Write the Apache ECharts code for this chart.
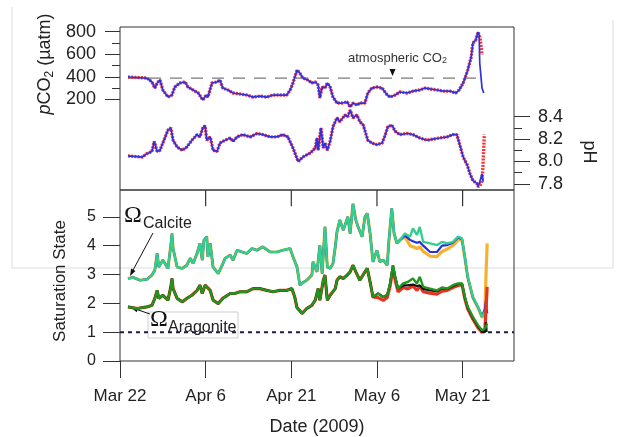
<!DOCTYPE html>
<html>
<head>
<meta charset="utf-8">
<script src="https://cdn.jsdelivr.net/npm/echarts@6/dist/echarts.min.js"></script>
<style>
  html, body { margin: 0; padding: 0; background: #fff; }
  #chart { width: 617px; height: 437px; }
</style>
</head>
<body>
<div id="chart"></div>
<script>
// x values are days after Mar 22, 2009
const dateTicks = [0, 15, 30, 45, 60]
const dateLabels = ['Mar 22', 'Apr 6', 'Apr 21', 'May 6', 'May 21']
const pco2Ticks = [200, 400, 600, 800]
const pco2MinorTicks = [300, 500, 700]
const phTicks = [7.8, 8.0, 8.2, 8.4]
const phMinorTicks = [7.9, 8.1, 8.3]
const satTicks = [0, 1, 2, 3, 4, 5]

const atmosphericCO2 = [[1.4, 388], [63.5, 388]]
const omegaOne = [[0, 1], [69, 1]]

const pco2Blue = [
  [1.4, 398], [4.7, 389], [5.6, 354], [6.1, 300], [6.5, 345], [7.0, 371], [7.5, 283], [8.4, 220],
  [9.1, 238], [9.6, 309], [10.5, 345], [11.4, 354], [11.9, 309], [12.8, 283], [13.7, 256], [14.5, 194],
  [15.1, 238], [15.4, 220], [16.1, 345], [17.0, 354], [17.5, 371], [18.0, 300], [18.9, 283], [19.8, 256],
  [21.0, 247], [22.2, 238], [23.3, 220], [24.5, 229], [25.7, 220], [26.8, 238], [28.0, 238], [29.2, 238],
  [29.8, 283], [30.3, 345], [31.0, 460], [31.5, 433], [32.0, 390], [32.9, 371], [33.6, 345], [34.2, 354],
  [34.7, 327], [35.0, 212], [35.4, 309], [35.9, 300], [36.3, 345], [36.8, 309], [37.3, 220], [38.0, 167],
  [38.9, 167], [39.8, 176], [40.3, 132], [40.8, 167], [41.5, 149], [42.0, 167], [42.9, 167], [43.4, 256],
  [44.1, 300], [45.0, 309], [45.9, 300], [46.4, 265], [46.8, 238], [47.3, 220], [48.2, 238], [49.0, 265],
  [50.3, 256], [51.3, 273], [52.5, 283], [53.4, 300], [54.3, 292], [55.5, 283], [56.6, 273], [57.8, 273],
  [58.8, 256], [59.4, 283], [60.1, 345], [60.6, 416], [60.9, 460], [61.5, 575], [61.8, 700], [62.3, 726],
  [62.7, 797], [62.9, 770], [63.0, 522], [63.4, 300], [63.7, 256]
]
const pco2RedTail = [[62.7, 797], [63.0, 785], [63.1, 740], [63.2, 690], [63.3, 640], [63.4, 595]]

const phBlue = [
  [1.4, 8.05], [3.9, 8.04], [4.7, 8.07], [5.6, 8.09], [6.0, 8.18], [6.5, 8.09], [7.0, 8.10], [7.5, 8.165],
  [8.4, 8.28], [8.9, 8.30], [9.3, 8.19], [10.0, 8.13], [10.9, 8.10], [11.7, 8.13], [12.6, 8.19], [13.5, 8.24],
  [14.0, 8.22], [14.5, 8.30], [14.9, 8.32], [15.2, 8.19], [15.8, 8.22], [16.3, 8.10], [17.0, 8.09], [17.5, 8.165],
  [18.4, 8.19], [19.3, 8.21], [19.8, 8.18], [20.5, 8.22], [21.5, 8.24], [22.8, 8.22], [24.0, 8.25], [25.0, 8.24],
  [26.3, 8.22], [27.5, 8.22], [28.5, 8.24], [29.4, 8.22], [30.3, 8.12], [31.2, 8.00], [32.0, 8.04], [33.3, 8.075],
  [34.2, 8.12], [34.5, 8.21], [34.7, 8.10], [35.2, 8.30], [35.6, 8.12], [35.9, 8.165], [36.3, 8.10], [36.8, 8.18],
  [37.3, 8.31], [38.0, 8.39], [38.5, 8.355], [39.4, 8.415], [39.9, 8.40], [40.3, 8.46], [40.8, 8.39], [41.5, 8.415],
  [42.0, 8.355], [42.6, 8.325], [43.4, 8.19], [44.1, 8.165], [45.0, 8.15], [45.9, 8.165], [46.4, 8.23], [46.9, 8.31],
  [47.6, 8.325], [48.2, 8.27], [49.0, 8.24], [50.3, 8.25], [51.3, 8.24], [52.5, 8.21], [53.8, 8.19], [54.8, 8.20],
  [56.0, 8.21], [57.3, 8.22], [58.3, 8.24], [59.0, 8.24], [59.5, 8.15], [60.1, 8.04], [60.8, 7.97], [61.3, 7.89],
  [61.8, 7.83], [62.5, 7.805], [62.7, 7.775], [63.0, 7.82], [63.4, 7.89], [63.6, 7.82]
]
const phRedTail = [[62.7, 7.775], [63.0, 7.79], [63.3, 7.80], [63.5, 7.9], [63.6, 8.0], [63.7, 8.12], [63.8, 8.24]]

const calcite = [
  [1.4, 2.86], [2.3, 2.90], [3.5, 2.80], [4.7, 2.83], [5.6, 2.98], [6.1, 3.15], [6.5, 3.73], [6.8, 3.26],
  [7.5, 3.50], [8.4, 3.21], [8.9, 4.02], [9.1, 4.42], [9.3, 3.90], [10.0, 3.26], [10.9, 3.21], [11.7, 3.32],
  [12.3, 3.56], [12.8, 3.38], [13.5, 3.73], [14.0, 4.08], [14.4, 3.50], [14.7, 4.19], [15.2, 4.31], [15.4, 3.61],
  [15.8, 4.08], [16.3, 3.26], [17.2, 3.03], [17.9, 3.32], [18.4, 3.56], [19.3, 3.67], [19.8, 3.50], [20.5, 3.84],
  [21.4, 3.78], [22.2, 3.73], [23.1, 3.90], [24.0, 3.84], [25.0, 3.96], [26.3, 3.78], [27.5, 3.78], [28.5, 3.84],
  [29.8, 3.90], [30.3, 3.61], [31.0, 3.26], [31.5, 2.63], [31.9, 2.70], [32.7, 2.80], [33.6, 2.98], [33.8, 3.44],
  [34.5, 3.09], [35.0, 4.02], [35.4, 3.03], [35.9, 4.65], [36.3, 3.26], [36.8, 3.21], [37.3, 3.38], [37.7, 3.96],
  [38.0, 4.48], [38.5, 4.89], [39.1, 4.54], [39.4, 4.71], [39.9, 5.0], [40.3, 4.42], [40.8, 5.45], [41.3, 4.89],
  [41.7, 4.65], [42.4, 4.31], [42.9, 5.0], [43.3, 5.12], [43.8, 4.42], [44.3, 3.44], [45.0, 3.84], [45.5, 3.44],
  [46.1, 3.50], [46.8, 3.32], [47.1, 4.19], [47.6, 5.29], [48.0, 4.42], [48.5, 4.08], [49.0, 4.19], [49.9, 4.42],
  [50.8, 4.31], [51.3, 4.60], [52.0, 4.37], [52.5, 4.65], [53.1, 4.13], [54.3, 4.08], [55.5, 4.02], [56.4, 4.13],
  [57.3, 4.08], [58.3, 4.13], [59.2, 4.31], [59.9, 4.25], [60.4, 3.61], [60.9, 2.92], [61.8, 2.22], [62.7, 1.88],
  [63.4, 1.53], [63.9, 1.70], [64.3, 1.88]
]
const calciteOrangeTail = [
  [49.9, 4.3], [50.8, 4.0], [51.3, 3.96], [52.0, 3.9], [52.5, 3.96], [53.1, 3.8], [54.3, 3.64], [55.5, 3.62],
  [56.4, 3.8], [57.3, 3.88], [58.3, 4.0], [59.2, 4.2], [59.9, 4.2], [60.4, 3.55], [60.9, 2.9], [61.8, 2.2],
  [62.7, 1.85], [63.4, 1.5], [63.9, 1.7], [64.1, 3.0], [64.3, 4.08]
]
const calciteBlueTail = [
  [49.9, 4.35], [50.8, 4.2], [51.3, 4.15], [52.0, 4.1], [52.5, 4.13], [53.1, 4.0], [54.3, 3.78], [55.5, 3.78],
  [56.4, 4.0], [57.3, 4.02], [58.3, 4.1], [59.2, 4.28], [59.9, 4.22], [60.4, 3.6], [60.9, 2.9], [61.8, 2.2],
  [62.7, 1.86], [63.4, 1.55], [63.9, 1.8], [64.1, 2.1], [64.3, 1.65]
]

const aragonite = [
  [1.4, 1.875], [3.0, 1.82], [4.7, 1.875], [5.6, 1.93], [6.1, 2.17], [6.5, 2.45], [6.8, 2.17], [7.5, 2.28],
  [8.4, 2.11], [8.9, 2.57], [9.1, 2.86], [9.3, 2.51], [10.0, 2.17], [10.9, 2.05], [11.7, 2.17], [12.6, 2.28],
  [13.5, 2.45], [14.0, 2.63], [14.4, 2.34], [14.9, 2.63], [15.2, 2.69], [15.8, 2.45], [16.3, 2.11], [17.2, 1.99],
  [18.0, 2.17], [19.3, 2.34], [20.1, 2.34], [21.0, 2.40], [22.2, 2.40], [23.3, 2.51], [24.5, 2.51], [25.7, 2.45],
  [26.8, 2.40], [28.0, 2.45], [29.2, 2.45], [30.1, 2.51], [30.6, 2.22], [31.0, 1.85], [31.9, 1.65], [32.7, 1.82],
  [33.6, 1.93], [34.2, 2.11], [34.7, 2.51], [35.0, 2.11], [35.6, 2.80], [35.9, 2.98], [36.3, 2.11], [36.8, 2.28],
  [37.7, 2.51], [38.0, 2.80], [38.5, 2.92], [39.1, 2.86], [39.8, 2.98], [40.3, 3.09], [40.8, 3.32], [41.3, 3.09],
  [42.0, 2.80], [42.9, 3.09], [43.3, 3.21], [43.8, 2.74], [44.3, 2.22], [45.2, 2.34], [46.1, 2.22], [46.8, 2.30],
  [47.3, 2.69], [47.8, 3.32], [48.2, 2.92], [48.7, 2.51], [49.6, 2.69], [50.4, 2.74], [51.3, 2.86], [52.0, 2.69],
  [52.5, 2.92], [53.1, 2.57], [54.3, 2.51], [55.5, 2.45], [56.4, 2.55], [57.3, 2.51], [58.3, 2.63], [59.2, 2.69],
  [59.9, 2.69], [60.4, 2.22], [60.9, 1.88], [61.8, 1.53], [62.7, 1.24], [63.4, 1.07], [63.9, 1.12], [64.3, 1.30]
]
const aragoniteRedTail = [
  [45.2, 2.2], [46.1, 2.1], [46.8, 2.2], [47.3, 2.6], [47.8, 3.2], [48.2, 2.8], [48.7, 2.4], [49.6, 2.55],
  [50.4, 2.5], [51.3, 2.6], [52.0, 2.45], [52.5, 2.6], [53.1, 2.4], [54.3, 2.35], [55.5, 2.32], [56.4, 2.42],
  [57.3, 2.45], [58.3, 2.55], [59.2, 2.62], [59.9, 2.65], [60.4, 2.15], [60.9, 1.8], [61.8, 1.45], [62.7, 1.15],
  [63.4, 1.0], [63.9, 1.05], [64.1, 1.8], [64.3, 2.57]
]
const aragoniteBlackTail = [
  [49.6, 2.62], [50.4, 2.62], [51.3, 2.65], [52.0, 2.6], [52.5, 2.62], [53.1, 2.5], [54.3, 2.45], [55.5, 2.42],
  [56.4, 2.52], [57.3, 2.5], [58.3, 2.6], [59.2, 2.67], [59.9, 2.68], [60.4, 2.2], [60.9, 1.85], [61.8, 1.5],
  [62.7, 1.2], [63.4, 1.02], [63.9, 1.0], [64.1, 1.35], [64.2, 1.0]
]

const font = 'Liberation Sans, Arial, sans-serif'
const serif = 'Liberation Serif, Times New Roman, serif'
const ink = '#222'
const axisColor = '#333'
const satMax = 5.93

function line(name, data, xi, yi, color, width, type, z) {
  return {
    name: name, type: 'line', data: data, xAxisIndex: xi, yAxisIndex: yi,
    showSymbol: false, silent: true, z: z || 2,
    lineStyle: { color: color, width: width, type: type || 'solid' }
  }
}

function yTicksAxis(grid, pos, min, max, ticks, len, showLabel, fontSize) {
  return {
    type: 'value', gridIndex: grid, position: pos, min: min, max: max,
    axisLine: { show: false, onZero: false },
    splitLine: { show: false },
    axisTick: { show: true, inside: false, length: len, customValues: ticks, lineStyle: { color: axisColor } },
    axisLabel: {
      show: showLabel, customValues: ticks, margin: 24, fontSize: fontSize, color: ink, fontFamily: font,
      formatter: v => (max < 10 && min > 5) ? v.toFixed(1) : String(Math.round(v))
    }
  }
}

function dateAxis(grid, len, showLabel) {
  return {
    type: 'value', gridIndex: grid, min: 0, max: 69, position: 'bottom',
    axisLine: { show: false, onZero: false }, splitLine: { show: false },
    axisTick: { show: len > 0, inside: false, length: len, customValues: dateTicks, lineStyle: { color: axisColor } },
    axisLabel: {
      show: showLabel, customValues: dateTicks, margin: 27, fontSize: 17, color: ink, fontFamily: font,
      formatter: v => dateLabels[dateTicks.indexOf(Math.round(v))]
    }
  }
}

// short date ticks hanging from the top edge of the lower panel, as broken line pieces
const hangingTicks = dateTicks.slice(1).flatMap(v => [[v, satMax], [v, satMax - 0.56], '-'])

const chart = echarts.init(document.getElementById('chart'), null, { renderer: 'canvas' })

const option = {
  backgroundColor: '#fff',
  animation: false,
  grid: [
    { left: 120, top: 27, width: 394, height: 163, show: true, borderColor: axisColor, borderWidth: 1, backgroundColor: 'transparent' },
    { left: 120, top: 190, width: 394, height: 171, show: true, borderColor: axisColor, borderWidth: 1, backgroundColor: 'transparent' }
  ],
  xAxis: [
    dateAxis(0, 0, false),
    dateAxis(1, 17, true)
  ],
  yAxis: [
    yTicksAxis(0, 'left', -605, 842, pco2Ticks, 15, true, 18),
    yTicksAxis(0, 'left', -605, 842, pco2MinorTicks, 8, false, 18),
    yTicksAxis(0, 'right', 7.746, 9.2, phTicks, 16, true, 18),
    yTicksAxis(0, 'right', 7.746, 9.2, phMinorTicks, 8, false, 18),
    yTicksAxis(1, 'left', 0, satMax, satTicks, 17, true, 16)
  ],
  series: [
    line('atmospheric CO2', atmosphericCO2, 0, 0, '#7a7a7a', 1.3, [12, 9], 1),
    line('pCO2 red', pco2Blue.filter(p => p[0] < 62.7).concat(pco2RedTail), 0, 0, '#f03a3a', 3.4, [2, 1.2]),
    line('pCO2 blue', pco2Blue, 0, 0, '#3030e0', 1.7),
    line('pH red', phBlue.filter(p => p[0] < 62.7).concat(phRedTail), 0, 2, '#f03a3a', 3.4, [2, 1.2]),
    line('pH blue', phBlue, 0, 2, '#3030e0', 1.7),

    Object.assign(line('date ticks', hangingTicks, 1, 4, axisColor, 1.2, 'solid', 6), { connectNulls: false }),
    line('omega = 1', omegaOne, 1, 4, '#1c1c48', 2, [4, 4], 1),
    line('calcite orange', calcite.filter(p => p[0] < 49.5).concat(calciteOrangeTail), 1, 4, '#f6b22e', 3.2),
    line('calcite blue', calcite.filter(p => p[0] < 49.5).concat(calciteBlueTail), 1, 4, '#2233dd', 2.2),
    line('calcite', calcite, 1, 4, '#33cf8e', 2.4),
    line('aragonite red', aragonite.filter(p => p[0] < 45).concat(aragoniteRedTail), 1, 4, '#e6331f', 3.2),
    line('aragonite black', aragonite.filter(p => p[0] < 49.6).concat(aragoniteBlackTail), 1, 4, '#111', 2.2),
    line('aragonite', aragonite, 1, 4, '#21961f', 2.4)
  ],
  graphic: [
    // faint frame left in the source picture
    { type: 'polyline', z: -1, shape: { points: [[12, 7], [12, 268], [613, 268], [613, 20]] }, style: { stroke: '#dcdcdc', lineWidth: 1, fill: null } },
    {
      type: 'text', x: 45, y: 64, rotation: Math.PI / 2,
      style: {
        text: '{i|p}CO{s|2} (µatm)', fill: ink, font: '18px ' + font, align: 'center', verticalAlign: 'middle',
        rich: {
          i: { fontStyle: 'italic', fontSize: 18, fontFamily: font, fill: ink },
          s: { fontSize: 12, fontFamily: font, padding: [9, 0, 0, 0], fill: ink }
        }
      }
    },
    {
      type: 'text', x: 589, y: 152, rotation: -Math.PI / 2,
      style: { text: 'pH', fill: ink, font: '18px ' + font, align: 'center', verticalAlign: 'middle' }
    },
    {
      type: 'text', x: 60, y: 281, rotation: Math.PI / 2,
      style: { text: 'Saturation State', fill: ink, font: '17px ' + font, align: 'center', verticalAlign: 'middle' }
    },
    {
      type: 'text', x: 317, y: 427,
      style: { text: 'Date (2009)', fill: ink, font: '18px ' + font, align: 'center', verticalAlign: 'middle' }
    },
    {
      type: 'text', x: 348, y: 58,
      style: {
        text: 'atmospheric CO{s|2}', fill: '#333', font: '13px ' + font, align: 'left', verticalAlign: 'middle',
        rich: { s: { fontSize: 9, fontFamily: font, padding: [6, 0, 0, 0], fill: '#333' } }
      }
    },
    { type: 'polygon', shape: { points: [[389.5, 69], [395.5, 69], [392.5, 76]] }, style: { fill: '#111' } },

    { type: 'text', x: 124, y: 216, style: { text: 'Ω', fill: '#111', font: '24px ' + serif, align: 'left', verticalAlign: 'middle' } },
    { type: 'text', x: 143, y: 224, style: { text: 'Calcite', fill: ink, font: '16px ' + font, align: 'left', verticalAlign: 'middle' } },
    { type: 'line', shape: { x1: 153, y1: 233, x2: 132, y2: 272 }, style: { stroke: '#111', lineWidth: 1 } },
    { type: 'polygon', shape: { points: [[130, 276], [135.5, 271], [131.1, 268.6]] }, style: { fill: '#111' } },

    { type: 'rect', shape: { x: 148, y: 312, width: 90, height: 26 }, style: { stroke: '#cfcfcf', lineWidth: 1, fill: '#fff' } },
    { type: 'text', x: 150, y: 320, style: { text: 'Ω', fill: '#111', font: '24px ' + serif, align: 'left', verticalAlign: 'middle' } },
    { type: 'text', x: 168, y: 328, style: { text: 'Aragonite', fill: ink, font: '16px ' + font, align: 'left', verticalAlign: 'middle' } },
    { type: 'line', shape: { x1: 150, y1: 314, x2: 134, y2: 308.5 }, style: { stroke: '#111', lineWidth: 1 } },
    { type: 'polygon', shape: { points: [[131, 307.7], [138.4, 307.5], [136.8, 312.3]] }, style: { fill: '#111' } }
  ]
}

chart.setOption(option)
</script>
</body>
</html>
